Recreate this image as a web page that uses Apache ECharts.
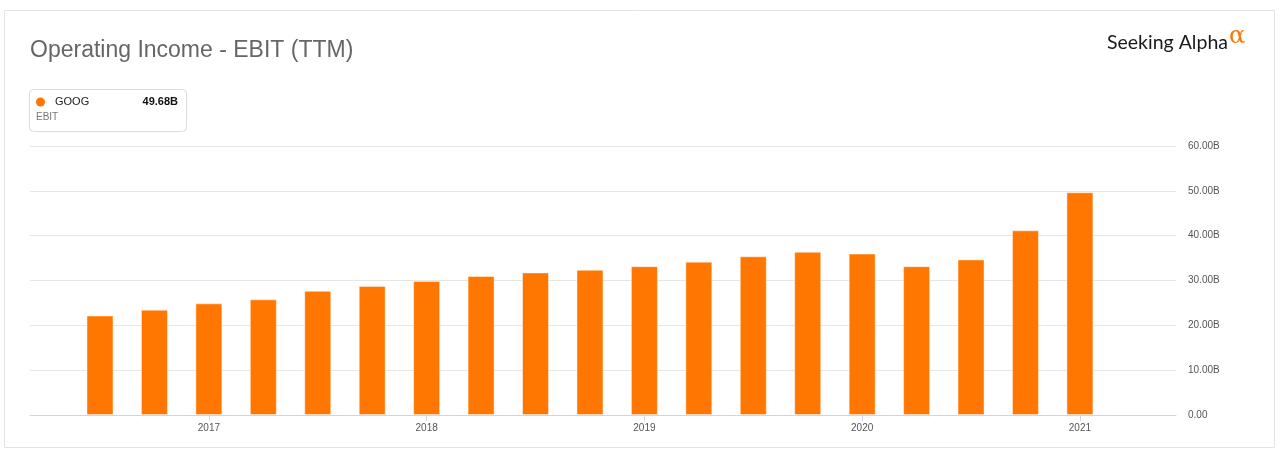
<!DOCTYPE html>
<html>
<head>
  <meta charset="utf-8">
  <script src="https://cdn.jsdelivr.net/npm/echarts@6/dist/echarts.min.js"></script>
  <style>
    html, body { margin: 0; padding: 0; background: #fff; }
  </style>
</head>
<body>
<div id="main" style="width:1280px;height:454px;"></div>
<script type="text/javascript">
// quarterly TTM operating income, GOOG, in billions
var quarters = [
  'Q3 2016', 'Q4 2016',
  'Q1 2017', 'Q2 2017', 'Q3 2017', 'Q4 2017',
  'Q1 2018', 'Q2 2018', 'Q3 2018', 'Q4 2018',
  'Q1 2019', 'Q2 2019', 'Q3 2019', 'Q4 2019',
  'Q1 2020', 'Q2 2020', 'Q3 2020', 'Q4 2020',
  'Q1 2021'
];
var ebit = [
  22.2, 23.5,
  24.9, 25.8, 27.7, 28.8,
  29.9, 31.0, 31.8, 32.4,
  33.2, 34.2, 35.4, 36.4,
  36.0, 33.2, 34.7, 41.2,
  49.68
];
var yTicks = [0, 10, 20, 30, 40, 50, 60];
var ticker = 'GOOG';
var metric = 'EBIT';

var orange = '#ff7600';

var yearTicks = [];
for (var i = 0; i < quarters.length; i++) {
  if (quarters[i].indexOf('Q1') === 0) yearTicks.push(i);
}
var barData = ebit.map(function (v, i) { return [i, v]; });
var lastValue = ebit[ebit.length - 1].toFixed(2) + 'B';

var chart = echarts.init(document.getElementById('main'));
chart.setOption({
  animation: false,
  title: {
    text: 'Operating Income - EBIT (TTM)',
    left: 25,
    top: 34,
    textStyle: {
      fontFamily: 'Liberation Sans',
      fontSize: 23,
      fontWeight: 'normal',
      color: '#666'
    }
  },
  grid: { left: 30, right: 104, top: 146, bottom: 39 },
  xAxis: {
    type: 'value',
    min: -1.286,
    max: 19.765,
    axisLine: { show: true, lineStyle: { color: '#ccd6eb', width: 1 } },
    axisTick: { show: true, customValues: yearTicks, length: 6, lineStyle: { color: '#ccd6eb' } },
    splitLine: { show: false },
    axisLabel: {
      customValues: yearTicks,
      margin: 8,
      fontFamily: 'Liberation Sans',
      fontSize: 10,
      color: '#555',
      formatter: function (v) {
        var q = quarters[Math.round(v)];
        return q ? q.split(' ')[1] : '';
      }
    }
  },
  yAxis: {
    type: 'value',
    position: 'right',
    min: yTicks[0],
    max: yTicks[yTicks.length - 1],
    interval: 10,
    axisLine: { show: false },
    axisTick: { show: false },
    splitLine: { lineStyle: { color: '#e6e6e6', width: 1 } },
    axisLabel: {
      margin: 12,
      fontFamily: 'Liberation Sans',
      fontSize: 10,
      color: '#555',
      formatter: function (v) {
        return v === 0 ? '0.00' : v.toFixed(2) + 'B';
      }
    }
  },
  series: [{
    type: 'bar',
    name: ticker,
    data: barData,
    barWidth: 27,
    itemStyle: {
      color: orange,
      borderColor: 'rgba(255,255,255,0.45)',
      borderWidth: 1
    }
  }],
  graphic: [
    {
      type: 'rect',
      silent: true,
      shape: { x: 4.5, y: 10.5, width: 1270, height: 437 },
      style: { fill: 'none', stroke: '#e3e3e3', lineWidth: 1 }
    },
    {
      type: 'rect',
      silent: true,
      shape: { x: 29.5, y: 89.5, width: 157, height: 42, r: 4 },
      style: { fill: '#fff', stroke: '#dcdcdc', lineWidth: 1 }
    },
    {
      type: 'circle',
      silent: true,
      shape: { cx: 40.5, cy: 102, r: 4.5 },
      style: { fill: orange }
    },
    {
      type: 'text',
      silent: true,
      left: 55, top: 96,
      style: { text: ticker, font: '11px "Liberation Sans"', fill: '#222' }
    },
    {
      type: 'text',
      silent: true,
      right: 1280 - 178, top: 96,
      style: { text: lastValue, font: 'bold 11px "Liberation Sans"', fill: '#111' }
    },
    {
      type: 'text',
      silent: true,
      left: 36, top: 112,
      style: { text: metric, font: '10px "Liberation Sans"', fill: '#777' }
    },
    {
      type: 'text',
      silent: true,
      left: 1107, top: 33,
      style: { text: 'Seeking Alpha', font: '19.5px Lato', fill: '#1a1a1a' }
    },
    {
      type: 'text',
      silent: true,
      left: 1229, top: 25,
      style: { text: 'α', font: '24px "DejaVu Serif"', fill: orange }
    }
  ]
});
</script>
</body>
</html>
